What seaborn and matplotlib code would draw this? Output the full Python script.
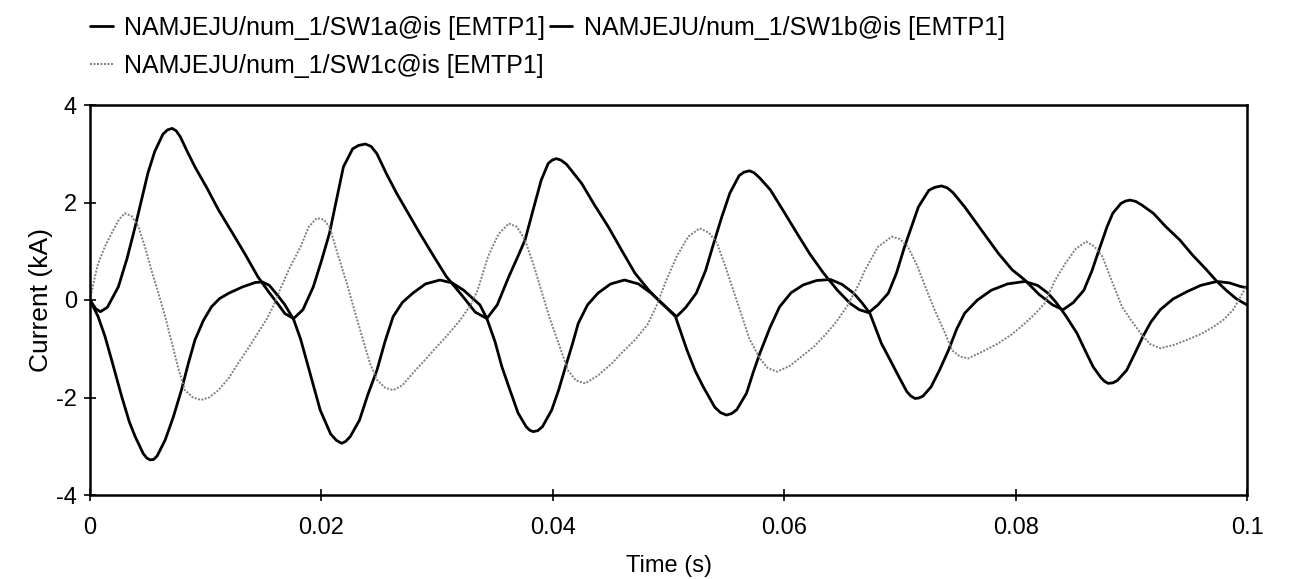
import numpy as np
import pandas as pd
import matplotlib
matplotlib.use("Agg")
import matplotlib.pyplot as plt
from matplotlib.ticker import FuncFormatter
import seaborn as sns

# ---------------- data (time in ms, current in kA) ----------------
labels = ["NAMJEJU/num_1/SW1a@is [EMTP1]",
          "NAMJEJU/num_1/SW1b@is [EMTP1]",
          "NAMJEJU/num_1/SW1c@is [EMTP1]"]

t_a = [0, 0.7, 1.3, 1.87, 2.74, 3.4, 3.9, 4.6, 4.9, 5.2, 5.5, 5.8, 6.5, 7.2, 7.9, 8.5, 9.07,
       9.8, 10.5, 11.2, 12.0, 13.2, 14.3, 14.9, 15.5, 16.2, 16.85, 17.6, 18.2, 18.7, 19.3,
       19.9, 20.8, 21.3, 21.75, 22.1, 22.5, 23.3, 24.0, 24.8, 25.5, 26.2, 27.0, 27.9, 29.0,
       30.25, 31.3, 32.3, 33.0, 33.7, 34.3, 35.0, 35.6, 36.3, 37.0, 37.7, 38.0, 38.3, 38.7,
       39.1, 39.9, 40.5, 41.1, 41.7, 42.2, 43.0, 43.9, 45.0, 46.2, 47.4, 48.5, 49.6, 50.6,
       51.6, 52.3, 53.0, 54.0, 54.5, 55.0, 55.45, 55.9, 56.75, 57.3, 57.9, 58.8, 59.6, 60.6,
       61.65, 62.8, 64.0, 65.0, 66.0, 66.7, 67.4, 68.4, 69.2, 69.9, 70.6, 70.95, 71.3, 71.65,
       72.0, 72.7, 73.4, 74.2, 74.9, 75.6, 76.7, 77.9, 79.3, 80.8, 81.9, 82.8, 83.5, 84.3,
       85.3, 86.0, 86.7, 87.4, 87.7, 88.0, 88.4, 88.8, 89.6, 90.3, 91.0, 91.7, 92.5, 93.6,
       94.8, 96.0, 97.4, 98.5, 99.4, 100]
i_a = [0, -0.34, -0.75, -1.23, -1.98, -2.5, -2.8, -3.15, -3.24, -3.28, -3.27, -3.2, -2.87,
       -2.4, -1.85, -1.3, -0.82, -0.42, -0.14, 0.03, 0.14, 0.27, 0.36, 0.37, 0.3, 0.1, -0.1,
       -0.4, -0.8, -1.23, -1.75, -2.26, -2.75, -2.88, -2.94, -2.9, -2.8, -2.46, -1.95,
       -1.44, -0.85, -0.34, -0.05, 0.14, 0.33, 0.41, 0.35, 0.2, 0.05, -0.1, -0.38, -0.85,
       -1.37, -1.85, -2.32, -2.6, -2.67, -2.7, -2.68, -2.6, -2.26, -1.85, -1.37, -0.9,
       -0.48, -0.1, 0.14, 0.33, 0.41, 0.33, 0.14, -0.1, -0.34, -1.03, -1.45, -1.78, -2.2,
       -2.31, -2.36, -2.33, -2.25, -1.91, -1.5, -1.09, -0.55, -0.14, 0.15, 0.31, 0.4, 0.42,
       0.32, 0.14, -0.05, -0.27, -0.89, -1.25, -1.57, -1.88, -1.97, -2.02, -2.01, -1.97,
       -1.78, -1.45, -1.03, -0.6, -0.27, 0.0, 0.2, 0.33, 0.38, 0.3, 0.14, -0.05, -0.31,
       -0.68, -1.03, -1.37, -1.6, -1.67, -1.71, -1.7, -1.65, -1.44, -1.1, -0.75, -0.45,
       -0.2, 0.02, 0.17, 0.3, 0.38, 0.35, 0.28, 0.25]

t_b = [0, 0.5, 0.9, 1.5, 2.45, 3.2, 3.9, 4.5, 5.0, 5.6, 6.3, 6.7, 7.1, 7.45, 7.8, 8.4, 9.07,
       10.1, 11.1, 12.5, 13.5, 14.5, 15.4, 16.3, 16.85, 17.6, 18.4, 19.3, 20.0, 20.7, 21.3,
       21.9, 22.7, 23.2, 23.8, 24.3, 24.8, 25.6, 26.5, 27.5, 28.5, 29.7, 30.8, 32.3, 33.3,
       34.3, 35.2, 36.2, 36.9, 37.6, 38.3, 39.0, 39.6, 39.95, 40.3, 40.7, 41.2, 42.5, 43.6,
       44.8, 46.0, 47.1, 48.3, 49.4, 50.7, 51.5, 52.4, 53.2, 53.9, 54.6, 55.3, 56.1, 56.5,
       57.0, 57.4, 57.9, 58.8, 60.0, 61.1, 62.2, 63.4, 64.6, 65.7, 66.5, 67.3, 68.1, 69.0,
       69.7, 70.4, 71.0, 71.6, 72.5, 73.0, 73.6, 74.1, 74.6, 75.6, 77.0, 78.5, 79.7, 80.8,
       82.0, 83.2, 84.1, 85.0, 85.9, 86.6, 87.3, 87.9, 88.4, 89.1, 89.5, 89.9, 90.4, 90.9,
       91.9, 93.0, 94.2, 95.3, 96.5, 97.4, 98.2, 99.1, 100]
i_b = [0, -0.18, -0.24, -0.15, 0.27, 0.85, 1.5, 2.1, 2.6, 3.05, 3.4, 3.49, 3.52, 3.47,
       3.35, 3.05, 2.73, 2.3, 1.85, 1.3, 0.9, 0.48, 0.18, -0.1, -0.28, -0.38, -0.2, 0.27,
       0.8, 1.37, 2.05, 2.73, 3.1, 3.17, 3.2, 3.15, 3.0, 2.6, 2.19, 1.78, 1.37, 0.9, 0.48,
       0.05, -0.25, -0.38, -0.1, 0.48, 0.85, 1.23, 1.85, 2.46, 2.8, 2.87, 2.9, 2.87, 2.78,
       2.39, 1.95, 1.5, 1.0, 0.55, 0.2, -0.07, -0.34, -0.15, 0.14, 0.6, 1.16, 1.7, 2.19,
       2.55, 2.62, 2.65, 2.61, 2.5, 2.26, 1.8, 1.37, 0.95, 0.55, 0.2, -0.07, -0.2, -0.26,
       -0.1, 0.14, 0.55, 1.09, 1.5, 1.91, 2.25, 2.31, 2.34, 2.3, 2.2, 1.91, 1.45, 0.96,
       0.62, 0.41, 0.12, -0.1, -0.2, -0.05, 0.2, 0.6, 1.09, 1.5, 1.78, 1.98, 2.03, 2.05,
       2.02, 1.95, 1.78, 1.5, 1.23, 0.92, 0.62, 0.38, 0.2, 0.02, -0.1]

t_c = [0, 0.4, 0.7, 1.3, 1.87, 2.5, 3.0, 3.6, 4.2, 4.8, 5.3, 5.9, 6.5, 7.1, 7.6, 8.2, 8.9,
       9.6, 10.3, 11.1, 12.0, 12.8, 13.7, 14.5, 15.3, 16.0, 16.4, 17.3, 18.2, 18.9, 19.6,
       20.2, 20.7, 21.4, 22.2, 22.9, 23.6, 24.2, 24.8, 25.5, 26.2, 27.0, 27.9, 28.8, 29.7,
       30.9, 32.0, 32.9, 33.5, 34.4, 35.3, 36.2, 36.9, 37.6, 38.3, 39.0, 39.7, 40.5, 41.3,
       42.0, 42.8, 43.9, 45.1, 46.1, 47.1, 48.2, 49.0, 49.8, 50.7, 51.7, 52.7, 53.5, 54.2,
       54.9, 55.6, 56.3, 57.0, 57.9, 58.6, 59.4, 60.5, 61.5, 62.6, 63.6, 64.5, 65.4, 66.4,
       67.0, 68.1, 69.3, 70.0, 70.7, 71.5, 72.2, 73.0, 73.9, 74.5, 75.2, 75.9, 77.2, 78.5,
       79.7, 80.8, 81.7, 82.5, 83.4, 84.3, 85.2, 86.1, 86.8, 87.5, 88.3, 89.2, 90.0, 90.8,
       91.6, 92.5, 93.7, 94.8, 96.0, 97.1, 98.0, 98.8, 99.4, 100]
i_c = [0, 0.45, 0.75, 1.1, 1.37, 1.65, 1.78, 1.72, 1.5, 1.05, 0.62, 0.15, -0.34, -0.9,
       -1.37, -1.85, -2.0, -2.05, -2.0, -1.85, -1.6, -1.3, -0.98, -0.68, -0.38, -0.05, 0.2,
       0.68, 1.09, 1.5, 1.68, 1.65, 1.5, 0.95, 0.34, -0.25, -0.82, -1.3, -1.64, -1.8, -1.85,
       -1.75, -1.5, -1.27, -1.03, -0.72, -0.41, -0.1, 0.2, 0.89, 1.35, 1.57, 1.5, 1.23,
       0.75, 0.2, -0.35, -0.89, -1.44, -1.65, -1.71, -1.55, -1.3, -1.05, -0.82, -0.5, -0.1,
       0.4, 0.89, 1.3, 1.47, 1.38, 1.16, 0.7, 0.2, -0.3, -0.8, -1.2, -1.4, -1.47, -1.35,
       -1.16, -0.95, -0.7, -0.45, -0.14, 0.3, 0.62, 1.09, 1.3, 1.25, 1.09, 0.7, 0.27, -0.2,
       -0.68, -1.03, -1.16, -1.2, -1.05, -0.89, -0.7, -0.48, -0.28, -0.07, 0.4, 0.75, 1.05,
       1.2, 1.1, 0.89, 0.4, -0.14, -0.42, -0.68, -0.9, -0.99, -0.92, -0.82, -0.7, -0.55,
       -0.4, -0.2, 0.05, 0.31]

x_ticks = [0, 0.02, 0.04, 0.06, 0.08, 0.1]
y_ticks = [-4, -2, 0, 2, 4]

# ---------------- style ----------------
sns.set_theme(style="white")
plt.rcParams["font.family"] = ["Liberation Sans", "DejaVu Sans"]

W, H = 1290, 579
fig = plt.figure(figsize=(W / 100, H / 100), dpi=100)
ax = fig.add_axes([90 / W, 1 - 495 / H, (1247 - 90) / W, (495 - 105) / H])

series = [
    (t_a, i_a, labels[0], dict(color="black", linewidth=2.0, linestyle="-")),
    (t_b, i_b, labels[1], dict(color="black", linewidth=2.0, linestyle="-")),
    (t_c, i_c, labels[2], dict(color="#7f7f7f", linewidth=1.4, linestyle=(0, (1, 0.8)))),
]
for t, v, lab, st in series:
    df = pd.DataFrame({"Time (s)": np.asarray(t) / 1000.0, "Current (kA)": v})
    sns.lineplot(data=df, x="Time (s)", y="Current (kA)", ax=ax, label=lab,
                 sort=False, estimator=None, **st)

ax.set_xlim(0, 0.1)
ax.set_ylim(-4, 4)
ax.set_xticks(x_ticks)
ax.set_yticks(y_ticks)
ax.xaxis.set_major_formatter(FuncFormatter(lambda v, p: f"{v:g}"))
ax.yaxis.set_major_formatter(FuncFormatter(lambda v, p: f"{v:g}"))
ax.tick_params(axis="both", which="major", direction="inout", length=9, width=1.2,
               color="black", labelsize=17, labelcolor="black",
               bottom=True, left=True, top=False, right=False)
ax.tick_params(axis="x", pad=11)
ax.tick_params(axis="y", pad=5)
for s in ax.spines.values():
    s.set_color("black")
    s.set_linewidth(1.8)
ax.grid(False)
ax.set_xlabel("Time (s)", fontsize=17, color="black", labelpad=12)
ax.set_ylabel("Current (kA)", fontsize=19, color="black", labelpad=2)

handles, labs = ax.get_legend_handles_labels()
order = [0, 2, 1]
leg = fig.legend([handles[k] for k in order], [labs[k] for k in order],
                 loc="upper left", bbox_to_anchor=(90 / W, 1 - 16 / H),
                 bbox_transform=fig.transFigure, ncol=2, frameon=False,
                 fontsize=18, handlelength=0.9, handletextpad=0.45,
                 columnspacing=0.2, labelspacing=0.55, borderpad=0, borderaxespad=0)
if ax.get_legend():
    ax.get_legend().remove()
for txt in leg.get_texts():
    txt.set_color("black")

fig.savefig("out.png", dpi=100, facecolor="white")
